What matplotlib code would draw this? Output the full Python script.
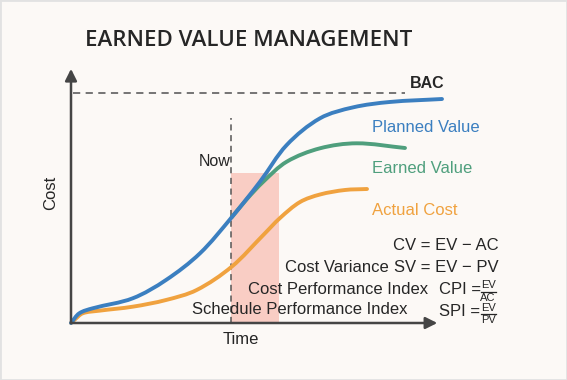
import matplotlib
matplotlib.use("Agg")
import numpy as np
import matplotlib.pyplot as plt
from matplotlib.patches import Rectangle, FancyArrowPatch, PathPatch
from matplotlib.path import Path

# ---------------- data (time %, cost % of BAC) ----------------
pv_time = [0, 2.24, 5.86, 16.68, 25.68, 34.86, 43.43, 51.08, 58.30, 67.30, 76.30, 86.2, 100.27]
pv_cost = [0, 4.22, 6.39, 10.74, 18.70, 30.30, 45.96, 61.43, 77.39, 89.0, 93.78, 96.1, 97.39]

ev_time = [43.43, 47.49, 51.97, 58.30, 67.30, 77.22, 90.27]
ev_cost = [45.96, 53.78, 61.43, 70.13, 75.96, 78.13, 76.09]

ac_time = [0, 0.89, 3.16, 7.65, 16.68, 25.68, 33.97, 43.43, 51.97, 56.49, 61.9, 67.30, 74.05, 80.0]
ac_cost = [0, 1.30, 4.22, 5.35, 7.09, 10.0, 14.35, 24.48, 38.26, 45.65, 52.6, 55.87, 57.83, 58.26]

bac_value = 100
now_time = 43.2
gap_end_time = 56.2
gap_top = 65.2

series_labels = ["Planned Value", "Earned Value", "Actual Cost"]
title = "EARNED VALUE MANAGEMENT"

W, H = 567, 380
BG = "#fcf9f6"
BLUE = "#3b7fc0"
GREEN = "#4f9f7d"
ORANGE = "#f0a23f"
DARK = "#262626"
AXIS = "#454545"

FONT = ["Liberation Sans", "DejaVu Sans"]
plt.rcParams["font.family"] = FONT

fig = plt.figure(figsize=(W / 100, H / 100), dpi=100)
fig.patch.set_facecolor(BG)

def fx(px):
    return px / W

def fy(py):
    return 1 - py / H

# axes: time 0..100 -> px 71..441 ; cost 0..100 -> py 323..93
AX_W, AX_H = 370, 230
ax = fig.add_axes([fx(71), fy(323), AX_W / W, AX_H / H])
ax.set_xlim(0, 100)
ax.set_ylim(0, 100)
ax.set_facecolor("none")
ax.axis("off")

def smooth_curve(xs, ys, color, z):
    pts = np.column_stack([xs, ys]).astype(float)
    scale = np.array([AX_W / 100.0, AX_H / 100.0])
    n = len(pts)
    seg = np.array([np.linalg.norm((pts[i + 1] - pts[i]) * scale) for i in range(n - 1)])
    tang = np.zeros_like(pts)
    tang[0] = (pts[1] - pts[0]) / seg[0]
    tang[-1] = (pts[-1] - pts[-2]) / seg[-1]
    for i in range(1, n - 1):
        tang[i] = (pts[i + 1] - pts[i - 1]) / (seg[i - 1] + seg[i])
    verts = [pts[0]]
    codes = [Path.MOVETO]
    for i in range(n - 1):
        verts += [pts[i] + tang[i] * seg[i] / 3.0, pts[i + 1] - tang[i + 1] * seg[i] / 3.0, pts[i + 1]]
        codes += [Path.CURVE4] * 3
    ax.add_patch(PathPatch(Path(verts, codes), facecolor="none", edgecolor=color, lw=2.8,
                           capstyle="round", joinstyle="round", zorder=z, clip_on=False))

# gap rectangle
ax.add_patch(Rectangle((now_time, 0), gap_end_time - now_time, gap_top,
                       facecolor="#f9cdc4", edgecolor="none", zorder=1, clip_on=False))

# BAC line
ax.plot([0.5, 90.3], [bac_value, bac_value], color="#6a6a6a", lw=1.3,
        dashes=(4, 3), zorder=2, clip_on=False)
# Now line
ax.plot([now_time, now_time], [0, 89], color="#555555", lw=1.1,
        dashes=(4, 3), zorder=2, clip_on=False)

# curves
smooth_curve(ac_time, ac_cost, ORANGE, 3)
smooth_curve(ev_time, ev_cost, GREEN, 3)
smooth_curve(pv_time, pv_cost, BLUE, 4)

# axes arrows
ax.add_patch(FancyArrowPatch((0, 0), (0, 110.5), arrowstyle="-|>,head_length=7,head_width=3.5",
                             color=AXIS, lw=1.8, zorder=5, clip_on=False, shrinkA=0, shrinkB=0))
ax.add_patch(FancyArrowPatch((0, 0), (99, 0), arrowstyle="-|>,head_length=7,head_width=3.5",
                             color=AXIS, lw=1.8, zorder=5, clip_on=False, shrinkA=0, shrinkB=0))

# texts
fig.text(fx(249), fy(40), title, ha="center", va="center", fontsize=16,
         fontweight="semibold", color=DARK, family=["Open Sans", "DejaVu Sans"])
fig.text(fx(51), fy(193), "Cost", rotation=90, ha="center", va="center",
         fontsize=12, color=DARK)
fig.text(fx(241), fy(340), "Time", ha="center", va="center", fontsize=12, color=DARK)
fig.text(fx(230), fy(161), "Now", ha="right", va="center", fontsize=11.5, color=DARK)
fig.text(fx(410), fy(84), "BAC", ha="left", va="center", fontsize=11.5,
         fontweight="bold", color=DARK)

for lab, col, py in zip(series_labels, [BLUE, GREEN, ORANGE], [128, 169, 210]):
    fig.text(fx(372), fy(py), lab, ha="left", va="center", fontsize=12, color=col)

fig.text(fx(499), fy(245), "CV = EV \u2212 AC", ha="right", va="center", fontsize=12, color=DARK)
fig.text(fx(499), fy(267), "SV = EV \u2212 PV", ha="right", va="center", fontsize=12, color=DARK)
fig.text(fx(389), fy(267), "Cost Variance", ha="right", va="center", fontsize=12, color=DARK)
fig.text(fx(428), fy(289), "Cost Performance Index", ha="right", va="center", fontsize=12, color=DARK)
fig.text(fx(408), fy(310), "Schedule Performance Index", ha="right", va="center", fontsize=12, color=DARK)
fig.text(fx(439), fy(289), "CPI =", ha="left", va="center", fontsize=12, color=DARK)
fig.text(fx(439), fy(311), "SPI =", ha="left", va="center", fontsize=12, color=DARK)

def frac(cx, cy, top, bot):
    fig.text(fx(cx), fy(cy - 1.2), top, ha="center", va="bottom", fontsize=8, color=DARK)
    fig.text(fx(cx), fy(cy + 1.2), bot, ha="center", va="top", fontsize=8, color=DARK)
    fig.add_artist(plt.Line2D([fx(cx - 7.5), fx(cx + 7.5)], [fy(cy), fy(cy)],
                              color=DARK, lw=0.9, transform=fig.transFigure))

frac(488, 291.5, "EV", "AC")
frac(488, 314, "EV", "PV")

# light frame
fig.add_artist(Rectangle((0, 0), 1, 1, transform=fig.transFigure, facecolor="none",
                         edgecolor="#e2e2e2", lw=2))

fig.savefig("out.png", dpi=100, facecolor=BG)
